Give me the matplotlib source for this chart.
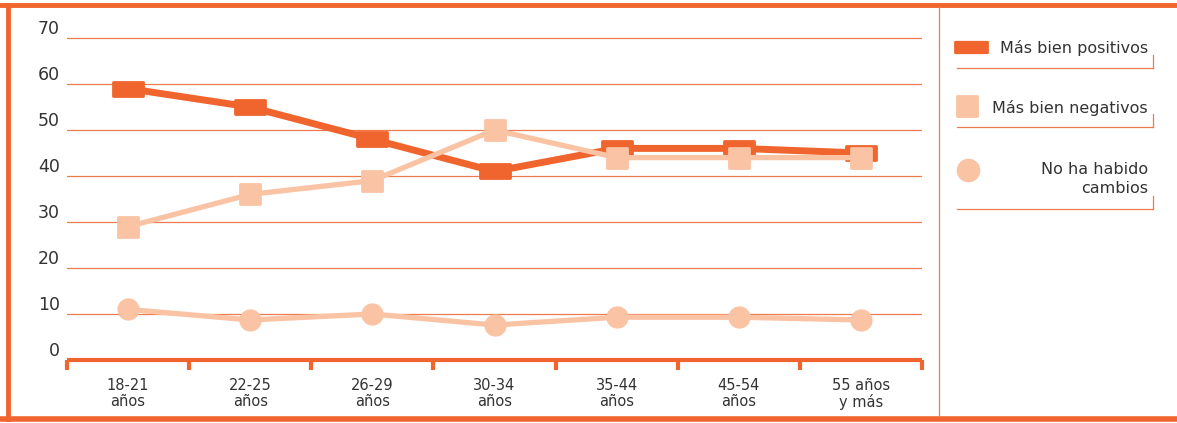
import matplotlib.pyplot as plt
import matplotlib.lines as mlines
import matplotlib.patches as mpatches
from matplotlib.path import Path
from matplotlib.markers import MarkerStyle
import numpy as np

# data
grupos = ["18-21\naños", "22-25\naños", "26-29\naños", "30-34\naños",
          "35-44\naños", "45-54\naños", "55 años\ny más"]
positivos = [59, 55, 48, 41, 46, 46, 45]
negativos = [29, 36, 39, 50, 44, 44, 44]
sin_cambios = [11, 8.7, 10, 7.6, 9.3, 9.3, 8.7]
series_nombres = ["Más bien positivos", "Más bien negativos", "No ha habido\ncambios"]

naranja = "#F0642E"
melocoton = "#FAC3A4"
grid_col = "#EC7A4C"
txt_col = "#333333"

plt.rcParams['font.family'] = ['DejaVu Sans']

W, H = 1177, 423
fig = plt.figure(figsize=(W / 100, H / 100), dpi=100)

def fx(px):
    return px / W

def fy(py):
    return 1 - py / H

# axes: x from 67 to 922 px, y=0 at 360 px, 10 units = 46 px
ymax = 75
ax = fig.add_axes([fx(67), fy(360), fx(922) - fx(67), (ymax * 4.6) / H])
ax.set_xlim(-0.5, 6.5)
ax.set_ylim(0, ymax)

for v in range(10, 80, 10):
    ax.axhline(v, color=grid_col, lw=0.9, zorder=1)

for s in ["top", "right", "left"]:
    ax.spines[s].set_visible(False)
ax.spines["bottom"].set_color(naranja)
ax.spines["bottom"].set_linewidth(3)
ax.spines["bottom"].set_capstyle("butt")

x = np.arange(len(grupos))

# wide rounded marker for first series
rect = Path([(-1, -0.45), (1, -0.45), (1, 0.45), (-1, 0.45), (-1, -0.45)],
            [Path.MOVETO, Path.LINETO, Path.LINETO, Path.LINETO, Path.CLOSEPOLY])
m_rect = MarkerStyle(rect, joinstyle="round")
m_sq = MarkerStyle("s", joinstyle="round")

ax.plot(x, sin_cambios, color=melocoton, lw=3.8, marker="o", ms=15,
        mec=melocoton, zorder=3)
ax.plot(x, positivos, color=naranja, lw=5, marker=m_rect, ms=21,
        mec=naranja, mew=2, zorder=4)
ax.plot(x, negativos, color=melocoton, lw=3.8, marker=m_sq, ms=14,
        mec=melocoton, mew=2, zorder=5)

ax.set_xticks(x)
ax.set_xticklabels(grupos, fontsize=10.5, color=txt_col, linespacing=1.05)
ax.tick_params(axis="x", length=0, pad=13)
ax.set_xticks(np.arange(-0.5, 7, 1), minor=True)
ax.tick_params(axis="x", which="minor", length=7, width=3, color=naranja,
               direction="out")

ax.set_yticks(range(0, 80, 10))
ax.tick_params(axis="y", length=0, pad=5, labelsize=12.5, labelcolor=txt_col)
for lab in ax.get_yticklabels():
    lab.set_verticalalignment("bottom")

# frame
fig.add_artist(mlines.Line2D([fx(0), fx(W)], [fy(5), fy(5)], color=naranja, lw=3.5))
fig.add_artist(mlines.Line2D([fx(8), fx(8)], [fy(5), fy(419)], color=naranja, lw=3.5))
fig.add_artist(mlines.Line2D([fx(0), fx(W)], [fy(419), fy(419)], color=naranja, lw=4))
fig.add_artist(mlines.Line2D([fx(939), fx(939)], [fy(6), fy(417)], color=grid_col, lw=0.9))

# legend drawn by hand
line_y = [68, 127, 209]
fig.add_artist(mpatches.FancyBboxPatch((fx(956), fy(53)), fx(31), fy(42) - fy(53),
                                       boxstyle="round,pad=0.001", fc=naranja, ec=naranja))
fig.add_artist(mlines.Line2D([fx(967)], [fy(106)], marker=m_sq, ms=14,
                             color=melocoton, mec=melocoton, mew=2))
fig.add_artist(mlines.Line2D([fx(968)], [fy(170)], marker="o", ms=16,
                             color=melocoton, mec=melocoton))
text_y = [48, 108, 179]
for nombre, ty, ly in zip(series_nombres, text_y, line_y):
    fig.text(fx(1148), fy(ty), nombre, ha="right", va="center", fontsize=11.5,
             color=txt_col, linespacing=1.3)
    fig.add_artist(mlines.Line2D([fx(957), fx(1153)], [fy(ly), fy(ly)],
                                 color=grid_col, lw=0.9))
    fig.add_artist(mlines.Line2D([fx(1153), fx(1153)], [fy(ly - 13), fy(ly)],
                                 color=grid_col, lw=0.9))

fig.savefig("out.png", dpi=100)
